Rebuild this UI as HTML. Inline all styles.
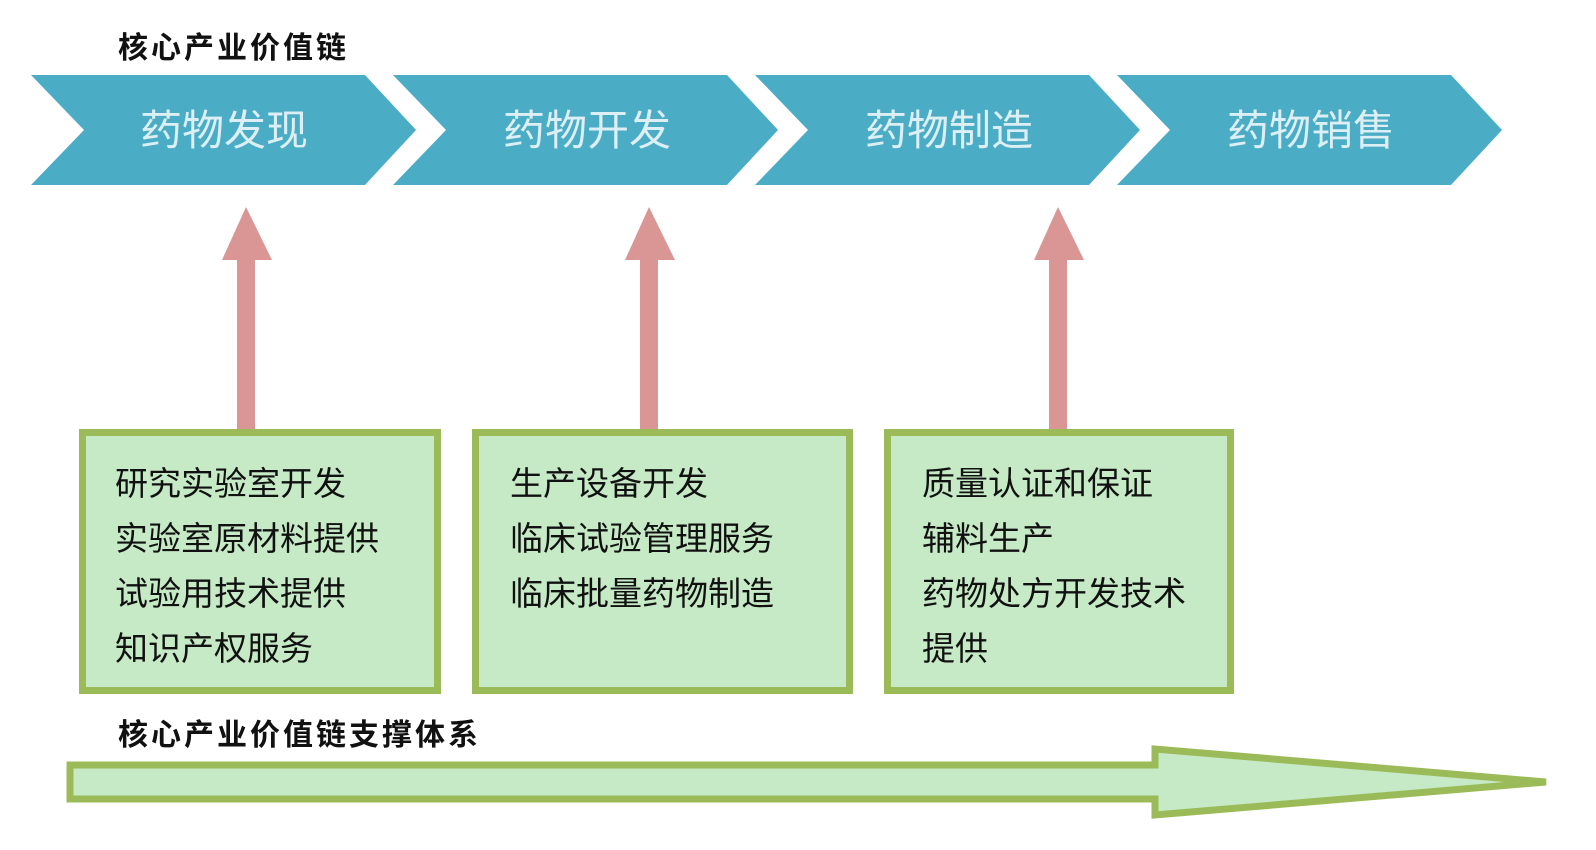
<!DOCTYPE html>
<html><head><meta charset="utf-8"><style>
html,body{margin:0;padding:0;background:#fff;}
svg{display:block}
text{font-family:"Liberation Sans","Noto Sans CJK SC",sans-serif;}
</style></head><body>
<svg width="1596" height="850" viewBox="0 0 1596 850" xmlns="http://www.w3.org/2000/svg">
<text x="118" y="58" font-size="30" font-weight="bold" fill="#111" letter-spacing="3">核心产业价值链</text>
<g fill="#4bacc6">
<polygon points="31,75 365,75 416,130 365,185 31,185 84,130"/>
<polygon points="393,75 727,75 778,130 727,185 393,185 446,130"/>
<polygon points="755,75 1089,75 1140,130 1089,185 755,185 808,130"/>
<polygon points="1117,75 1451,75 1502,130 1451,185 1117,185 1170,130"/>
</g>
<g font-size="42" fill="#dbeff5" text-anchor="middle">
<text x="224" y="145">药物发现</text>
<text x="587" y="145">药物开发</text>
<text x="949" y="145">药物制造</text>
<text x="1311" y="145">药物销售</text>
</g>
<g fill="#d99694">
<polygon points="237,432 237,260 222,260 246,207 272,260 255,260 255,432"/>
<polygon points="640,432 640,260 625,260 649,207 675,260 658,260 658,432"/>
<polygon points="1049,432 1049,260 1034,260 1058,207 1084,260 1067,260 1067,432"/>
</g>
<g fill="#c6eac6" stroke="#9bbb59" stroke-width="7">
<rect x="82.5" y="432.5" width="355" height="258"/>
<rect x="475.5" y="432.5" width="374" height="258"/>
<rect x="887.5" y="432.5" width="343" height="258"/>
</g>
<g font-size="33" fill="#111">
<text x="115" y="495">研究实验室开发</text>
<text x="115" y="550">实验室原材料提供</text>
<text x="115" y="605">试验用技术提供</text>
<text x="115" y="660">知识产权服务</text>
<text x="510" y="495">生产设备开发</text>
<text x="510" y="550">临床试验管理服务</text>
<text x="510" y="605">临床批量药物制造</text>
<text x="922" y="495">质量认证和保证</text>
<text x="922" y="550">辅料生产</text>
<text x="922" y="605">药物处方开发技术</text>
<text x="922" y="660">提供</text>
</g>
<text x="118" y="745" font-size="30" font-weight="bold" fill="#111" letter-spacing="3">核心产业价值链支撑体系</text>
<polygon points="70,765 1155,765 1155,749 1546,782 1155,815 1155,799 70,799" fill="#c6eac6" stroke="#9bbb59" stroke-width="7" stroke-linejoin="miter"/>
</svg>
</body></html>
